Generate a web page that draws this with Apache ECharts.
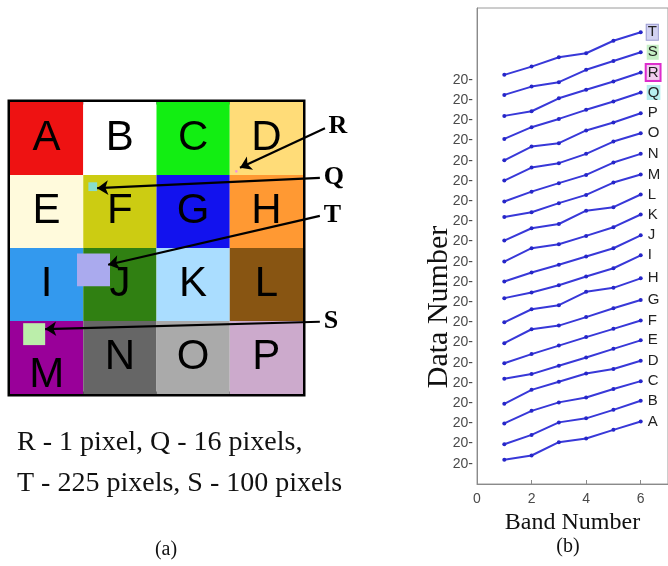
<!DOCTYPE html>
<html>
<head>
<meta charset="utf-8">
<script src="https://cdn.jsdelivr.net/npm/echarts@6/dist/echarts.min.js"></script>
<style>
  html, body { margin: 0; padding: 0; background: #fff; }
  #main { width: 668px; height: 566px; }
</style>
</head>
<body>
<div id="main"></div>
<script>
// panel (a): 4x4 colour blocks
const cellLetters = ['A', 'B', 'C', 'D', 'E', 'F', 'G', 'H', 'I', 'J', 'K', 'L', 'M', 'N', 'O', 'P'];
const cellColors = ['#ee1212', '#ffffff', '#12ee12', '#ffdc78', '#fffadc', '#cccc12', '#1212ee', '#ff9933',
  '#3399ee', '#308012', '#aaddff', '#885512', '#990099', '#666666', '#aaaaaa', '#ccaacc'];

// test patches: name, size in pixels, centre (in block units)
const patchNames = ['R', 'Q', 'T', 'S'];
const patchPixels = [1, 16, 225, 100];
const patchCenters = [[3.09, 0.95], [1.13, 1.16], [1.14, 2.30], [0.33, 3.18]];
const patchColors = ['#ee88ee', '#88ddcc', '#aaaaee', '#bbeeaa'];
const arrowStarts = [[4.30, 0.36], [4.23, 1.04], [4.23, 1.56], [4.23, 3.01]];
const arrowEnds = [[3.14, 0.90], [1.19, 1.18], [1.34, 2.23], [0.48, 3.11]];

// panel (b): spectral profiles
const bandNumbers = [1, 2, 3, 4, 5, 6];
const dataNames = ['A', 'B', 'C', 'D', 'E', 'F', 'G', 'H', 'I', 'J', 'K', 'L', 'M', 'N', 'O', 'P', 'Q', 'R', 'S', 'T'];
const dataValues = [
  [1.20, 1.41, 2.07, 2.25, 2.68, 3.09],
  [1.97, 2.43, 3.05, 3.25, 3.67, 4.12],
  [3.00, 3.62, 4.04, 4.28, 4.70, 5.09],
  [3.97, 4.66, 5.06, 5.47, 5.69, 6.10],
  [5.21, 5.44, 5.85, 6.26, 6.69, 7.11],
  [5.98, 6.43, 6.85, 7.27, 7.68, 8.09],
  [6.97, 7.66, 7.84, 8.26, 8.70, 9.11],
  [8.00, 8.65, 8.85, 9.51, 9.71, 10.18],
  [9.20, 9.48, 9.84, 10.27, 10.68, 11.32],
  [10.02, 10.47, 10.85, 11.26, 11.67, 12.31],
  [11.01, 11.67, 11.87, 12.28, 12.71, 13.34],
  [12.05, 12.66, 12.87, 13.53, 13.70, 14.33],
  [13.21, 13.45, 13.90, 14.31, 14.92, 15.32],
  [13.98, 14.47, 14.89, 15.30, 15.91, 16.34],
  [15.02, 15.66, 15.88, 16.34, 16.95, 17.36],
  [16.02, 16.70, 16.87, 17.50, 17.89, 18.35],
  [17.08, 17.66, 18.07, 18.52, 18.93, 19.38],
  [18.22, 18.45, 19.09, 19.51, 19.92, 20.37],
  [19.26, 19.67, 19.89, 20.50, 20.94, 21.37],
  [20.25, 20.66, 21.12, 21.32, 21.94, 22.36]
];
const yTickLabels = ['20', '20', '20', '20', '20', '20', '20', '20', '20', '20',
  '20', '20', '20', '20', '20', '20', '20', '20', '20', '20'];

const SERIF = '"Liberation Serif", "Times New Roman", serif';
const SANS = '"Liberation Sans", Arial, sans-serif';
const PIX_PER_BLOCK = 33.3; // original image pixels per block

const endLabelBoxes = {
  T: { backgroundColor: '#d2d2f2', borderColor: '#9c9cd2', borderWidth: 1 },
  S: { backgroundColor: '#c6efc6' },
  R: { backgroundColor: '#f2cdef', borderColor: '#dd2ccc', borderWidth: 2 },
  Q: { backgroundColor: '#b6eeee' }
};

const chart = echarts.init(document.getElementById('main'));

const cellSeries = {
  type: 'custom',
  xAxisIndex: 0,
  yAxisIndex: 0,
  data: cellLetters.map((l, i) => [i % 4, Math.floor(i / 4), i]),
  renderItem: function (params, api) {
    const col = api.value(0), row = api.value(1), idx = api.value(2);
    const p0 = api.coord([col, row]);
    const p1 = api.coord([col + 1, row + 1]);
    const letter = cellLetters[idx];
    return {
      type: 'rect',
      shape: { x: p0[0], y: p0[1], width: p1[0] - p0[0], height: p1[1] - p0[1] },
      style: { fill: cellColors[idx] },
      textContent: {
        style: { text: letter, fontSize: 42, fontFamily: SANS, fill: '#000' }
      },
      textConfig: { position: 'inside', offset: [0, letter === 'M' ? 18 : 0] }
    };
  },
  z: 2
};

const patchSeries = {
  type: 'custom',
  xAxisIndex: 0,
  yAxisIndex: 0,
  data: patchNames.map((n, i) => [patchCenters[i][0], patchCenters[i][1], Math.sqrt(patchPixels[i]) / PIX_PER_BLOCK, i]),
  renderItem: function (params, api) {
    const cx = api.value(0), cy = api.value(1), s = api.value(2) / 2;
    const p0 = api.coord([cx - s, cy - s]);
    const p1 = api.coord([cx + s, cy + s]);
    return {
      type: 'rect',
      shape: { x: p0[0], y: p0[1], width: p1[0] - p0[0], height: p1[1] - p0[1] },
      style: { fill: patchColors[api.value(3)] }
    };
  },
  z: 3
};

const arrowSeries = {
  type: 'lines',
  coordinateSystem: 'cartesian2d',
  xAxisIndex: 0,
  yAxisIndex: 0,
  clip: false,
  symbol: ['none', 'arrow'],
  symbolSize: 11,
  lineStyle: { color: '#000', width: 2.2, opacity: 1 },
  label: {
    show: true,
    position: 'start',
    distance: 4,
    formatter: '{b}',
    fontFamily: SERIF,
    fontWeight: 'bold',
    fontSize: 26,
    color: '#000'
  },
  data: patchNames.map((n, i) => ({ name: n, coords: [arrowStarts[i], arrowEnds[i]] })),
  z: 4
};

const lineSeries = dataNames.map((name, i) => ({
  type: 'line',
  name: name,
  xAxisIndex: 1,
  yAxisIndex: 1,
  data: bandNumbers.map((b, j) => [b, dataValues[i][j]]),
  symbol: 'circle',
  symbolSize: 4,
  itemStyle: { color: '#2626c8' },
  lineStyle: { color: '#3838d8', width: 2 },
  endLabel: Object.assign({
    show: true,
    formatter: '{a}',
    distance: 6,
    fontFamily: SANS,
    fontSize: 15,
    color: '#222',
    padding: [0, 1]
  }, endLabelBoxes[name] || {}),
  emphasis: { disabled: true },
  z: 3
}));

chart.setOption({
  animation: false,
  backgroundColor: '#fff',
  grid: [
    { left: 10, top: 102, width: 293, height: 292, show: true, borderColor: '#000', borderWidth: 5, backgroundColor: 'transparent' },
    { left: 477, top: 8, width: 194, height: 476, show: true, borderColor: '#9a9a9a', borderWidth: 1 }
  ],
  xAxis: [
    { gridIndex: 0, type: 'value', min: 0, max: 4, show: false },
    {
      gridIndex: 1, type: 'value', min: 0, max: 7, interval: 2,
      name: 'Band Number', nameLocation: 'middle', nameGap: 19,
      nameTextStyle: { fontFamily: SERIF, fontSize: 24, color: '#111' },
      axisLine: { lineStyle: { color: '#8a8a8a' } },
      axisTick: { inside: true, length: 4, lineStyle: { color: '#8a8a8a' } },
      axisLabel: { showMaxLabel: false, margin: 8, fontFamily: SANS, fontSize: 14, color: '#4a4a4a' },
      splitLine: { show: false }
    }
  ],
  yAxis: [
    { gridIndex: 0, type: 'value', min: 0, max: 4, inverse: true, show: false },
    {
      gridIndex: 1, type: 'value', min: 0, max: 23.56, interval: 1,
      axisLine: { show: true, lineStyle: { color: '#8a8a8a' } },
      axisTick: { show: false },
      axisLabel: {
        margin: 4, fontFamily: SANS, fontSize: 14, color: '#4a4a4a',
        showMaxLabel: false,
        formatter: function (v) {
          const k = Math.round(v);
          if (Math.abs(v - k) > 1e-6 || k < 1 || k > yTickLabels.length) return '';
          return yTickLabels[k - 1] + '-';
        }
      },
      splitLine: { show: false }
    }
  ],
  graphic: [
    { type: 'text', x: 17, y: 443, style: { text: 'R - 1 pixel, Q - 16 pixels,', font: '28px ' + SERIF, fill: '#111', verticalAlign: 'middle', textVerticalAlign: 'middle' } },
    { type: 'text', x: 17, y: 484, style: { text: 'T - 225 pixels, S - 100 pixels', font: '28px ' + SERIF, fill: '#111', verticalAlign: 'middle', textVerticalAlign: 'middle' } },
    { type: 'text', x: 166, y: 550, style: { text: '(a)', font: '20px ' + SERIF, fill: '#111', align: 'center', textAlign: 'center', verticalAlign: 'middle', textVerticalAlign: 'middle' } },
    { type: 'text', x: 568, y: 547, style: { text: '(b)', font: '20px ' + SERIF, fill: '#111', align: 'center', textAlign: 'center', verticalAlign: 'middle', textVerticalAlign: 'middle' } },
    { type: 'text', x: 439, y: 307, rotation: Math.PI / 2, style: { text: 'Data Number', font: '30px ' + SERIF, fill: '#111', align: 'center', textAlign: 'center', verticalAlign: 'middle', textVerticalAlign: 'middle' } }
  ],
  series: [cellSeries, patchSeries, arrowSeries].concat(lineSeries)
});
</script>
</body>
</html>
